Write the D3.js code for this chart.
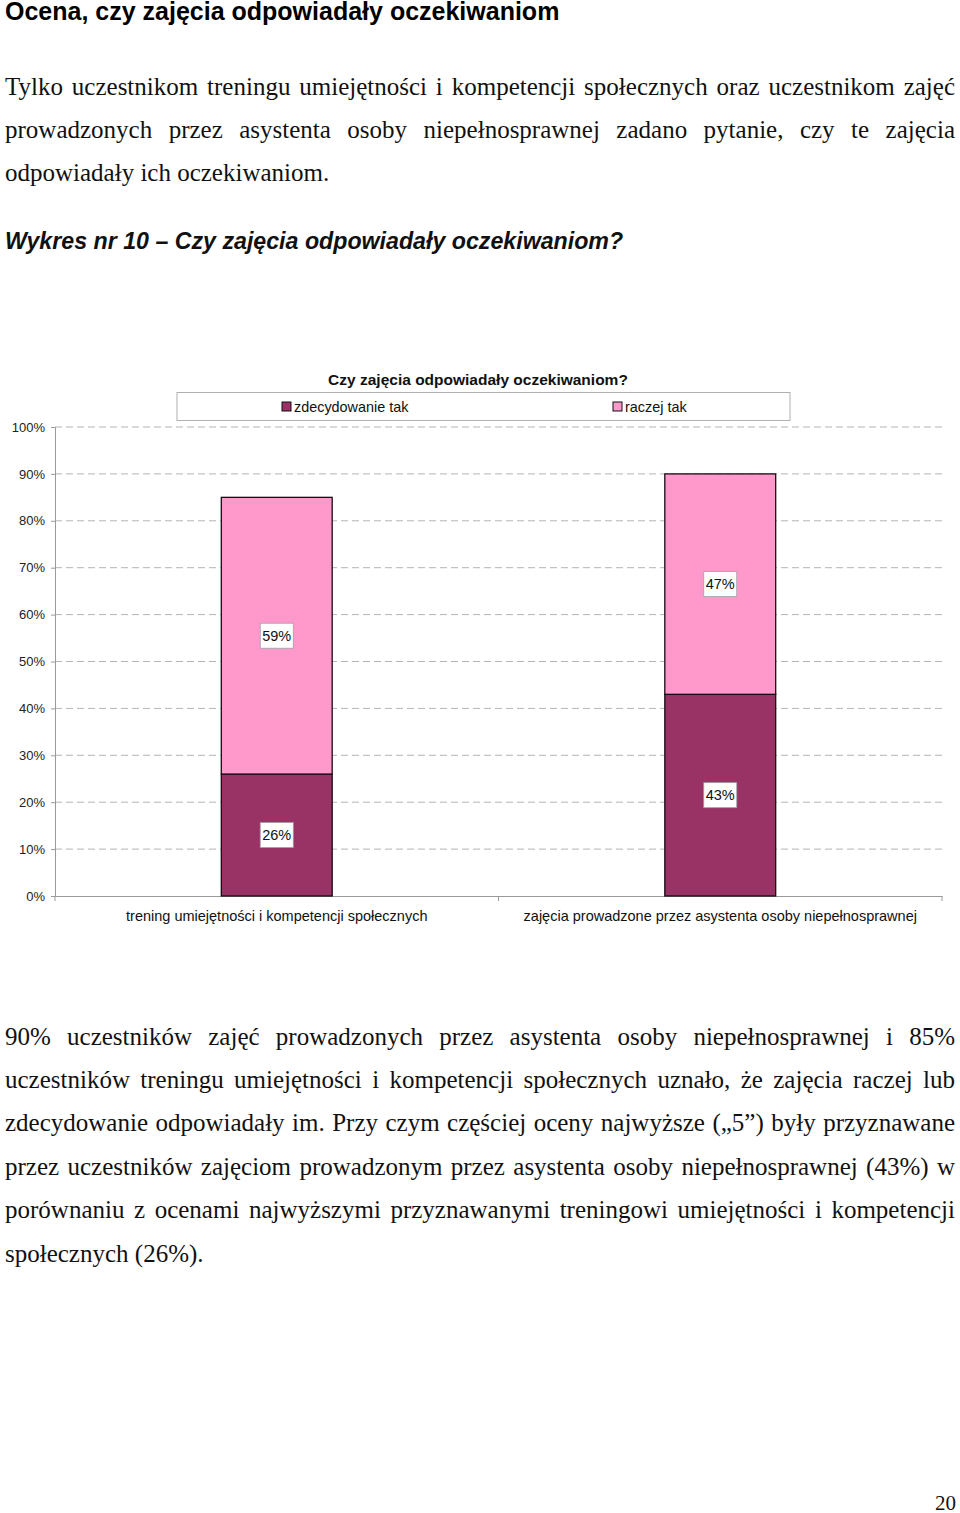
<!DOCTYPE html>
<html lang="pl">
<head>
<meta charset="utf-8">
<script src="https://cdn.jsdelivr.net/npm/d3@7"></script>
<style>
  html, body { margin: 0; padding: 0; background: #fff; }
  body { width: 960px; height: 1513px; position: relative; overflow: hidden; }
  .line { position: absolute; left: 5px; width: 950px; white-space: nowrap;
          font-family: "Liberation Serif", "Times New Roman", serif; font-size: 25px; color: #111; }
  .just { text-align: justify; text-align-last: justify; white-space: normal; }
  .h1 { position: absolute; left: 5px; font-family: "Liberation Sans", Arial, sans-serif;
        font-weight: bold; font-size: 25px; color: #000; white-space: nowrap; }
  .h2 { position: absolute; left: 5px; font-family: "Liberation Sans", Arial, sans-serif;
        font-weight: bold; font-style: italic; font-size: 23.2px; color: #111; white-space: nowrap; }
  svg { position: absolute; left: 0; top: 0; }
</style>
</head>
<body>
<div id="page"></div>
<svg id="chart" width="960" height="1513"></svg>
<script>
(function () {
// ---- data ----
const pageTitle = "Ocena, czy zajęcia odpowiadały oczekiwaniom";
const intro = [
  "Tylko uczestnikom treningu umiejętności i kompetencji społecznych oraz uczestnikom zajęć",
  "prowadzonych przez asystenta osoby niepełnosprawnej zadano pytanie, czy te zajęcia",
  "odpowiadały ich oczekiwaniom."
];
const figureCaption = "Wykres nr 10 – Czy zajęcia odpowiadały oczekiwaniom?";
const chartTitle = "Czy zajęcia odpowiadały oczekiwaniom?";
const categories = [
  "trening umiejętności i kompetencji społecznych",
  "zajęcia prowadzone przez asystenta osoby niepełnosprawnej"
];
const seriesNames = ["zdecydowanie tak", "raczej tak"];
const zdecydowanieTak = [26, 43];
const raczejTak = [59, 47];
const seriesColors = ["#993366", "#FF99CC"];
const yTicks = [0, 10, 20, 30, 40, 50, 60, 70, 80, 90, 100];
const summary = [
  "90% uczestników zajęć prowadzonych przez asystenta osoby niepełnosprawnej i 85%",
  "uczestników treningu umiejętności i kompetencji społecznych uznało, że zajęcia raczej lub",
  "zdecydowanie odpowiadały im. Przy czym częściej oceny najwyższe („5”) były przyznawane",
  "przez uczestników zajęciom prowadzonym przez asystenta osoby niepełnosprawnej (43%) w",
  "porównaniu z ocenami najwyższymi przyznawanymi treningowi umiejętności i kompetencji",
  "społecznych (26%)."
];
const pageNumber = "20";

// ---- page text ----
const page = d3.select("#page");
page.append("div").attr("class", "h1").style("top", "-3px").text(pageTitle);
intro.forEach((t, i) => {
  page.append("div")
    .attr("class", "line" + (i < intro.length - 1 ? " just" : ""))
    .style("top", (72.5 + i * 43.3) + "px").text(t);
});
page.append("div").attr("class", "h2").style("top", "227.5px").text(figureCaption);
summary.forEach((t, i) => {
  page.append("div")
    .attr("class", "line" + (i < summary.length - 1 ? " just" : ""))
    .style("top", (1022.5 + i * 43.4) + "px").text(t);
});
page.append("div").attr("class", "line")
  .style("left", "935px").style("width", "25px").style("top", "1491px")
  .style("font-size", "21px").text(pageNumber);

// ---- chart ----
const svg = d3.select("#chart");
const font = "'Liberation Sans', Arial, sans-serif";
const pLeft = 55, pRight = 942, pTop = 427, pBottom = 896;

const x = d3.scaleBand().domain(categories).range([pLeft, pRight]).padding(0);
const y = d3.scaleLinear().domain([0, 100]).range([pBottom, pTop]);
const barW = x.bandwidth() * 0.25;

const table = categories.map((c, i) => ({ cat: c, [seriesNames[0]]: zdecydowanieTak[i], [seriesNames[1]]: raczejTak[i] }));
const stacked = d3.stack().keys(seriesNames)(table);

// gridlines
svg.append("g").selectAll("line").data(yTicks.filter(d => d > 0)).join("line")
  .attr("x1", pLeft).attr("x2", pRight)
  .attr("y1", d => y(d)).attr("y2", d => y(d))
  .attr("stroke", "#b4b4b4").attr("stroke-width", 1).attr("stroke-dasharray", "7,4");

// y axis
const yAxis = svg.append("g").attr("transform", `translate(${pLeft},0)`)
  .call(d3.axisLeft(y).tickValues(yTicks).tickFormat(d => d + "%").tickSize(4).tickPadding(6));
yAxis.select(".domain").attr("stroke", "#9a9a9a");
yAxis.selectAll(".tick line").attr("stroke", "#9a9a9a");
yAxis.selectAll("text").attr("font-family", font).attr("font-size", 13).attr("fill", "#222");

// x axis
const xAxis = svg.append("g").attr("transform", `translate(0,${pBottom})`)
  .call(d3.axisBottom(x).tickSize(0).tickPadding(15));
xAxis.select(".domain").attr("stroke", "#9a9a9a");
xAxis.selectAll("text").attr("font-family", font).attr("font-size", 14.5).attr("fill", "#111");
// category separator ticks
svg.append("g").selectAll("line").data([pLeft, pLeft + x.step(), pRight]).join("line")
  .attr("x1", d => d).attr("x2", d => d).attr("y1", pBottom).attr("y2", pBottom + 5)
  .attr("stroke", "#9a9a9a");

// bars
const layers = svg.append("g").selectAll("g").data(stacked).join("g")
  .attr("fill", (d, i) => seriesColors[i]);
layers.selectAll("rect").data(d => d).join("rect")
  .attr("x", d => x(d.data.cat) + (x.bandwidth() - barW) / 2)
  .attr("width", barW)
  .attr("y", d => y(d[1]))
  .attr("height", d => y(d[0]) - y(d[1]))
  .attr("stroke", "#1a0a14").attr("stroke-width", 1.3);

// value labels
const labels = [];
stacked.forEach(s => s.forEach(d => labels.push({ cat: d.data.cat, v: d[1] - d[0], mid: (d[0] + d[1]) / 2 })));
const lg = svg.append("g").selectAll("g").data(labels).join("g")
  .attr("transform", d => `translate(${x(d.cat) + x.bandwidth() / 2},${y(d.mid)})`);
lg.append("rect").attr("x", -16.5).attr("y", -12.5).attr("width", 33).attr("height", 25)
  .attr("fill", "#fff").attr("stroke", "#a0a0a0").attr("stroke-width", 0.8);
lg.append("text").attr("text-anchor", "middle").attr("dy", "0.36em")
  .attr("font-family", font).attr("font-size", 14.5).attr("fill", "#111")
  .text(d => d.v + "%");

// chart title
svg.append("text").attr("x", 478).attr("y", 384.5).attr("text-anchor", "middle")
  .attr("font-family", font).attr("font-weight", "bold").attr("font-size", 15.5).attr("fill", "#111")
  .text(chartTitle);

// legend
const legend = svg.append("g");
legend.append("rect").attr("x", 177).attr("y", 392.5).attr("width", 613).attr("height", 28)
  .attr("fill", "#fff").attr("stroke", "#b0b0b0");
const legendX = [282, 613];
const li = legend.selectAll("g.item").data(seriesNames).join("g").attr("class", "item")
  .attr("transform", (d, i) => `translate(${legendX[i]},402)`);
li.append("rect").attr("width", 9).attr("height", 9)
  .attr("fill", (d, i) => seriesColors[i]).attr("stroke", "#111").attr("stroke-width", 1);
li.append("text").attr("x", 12).attr("y", 10)
  .attr("font-family", font).attr("font-size", 14.4).attr("fill", "#111").text(d => d);
})();
</script>
</body>
</html>
